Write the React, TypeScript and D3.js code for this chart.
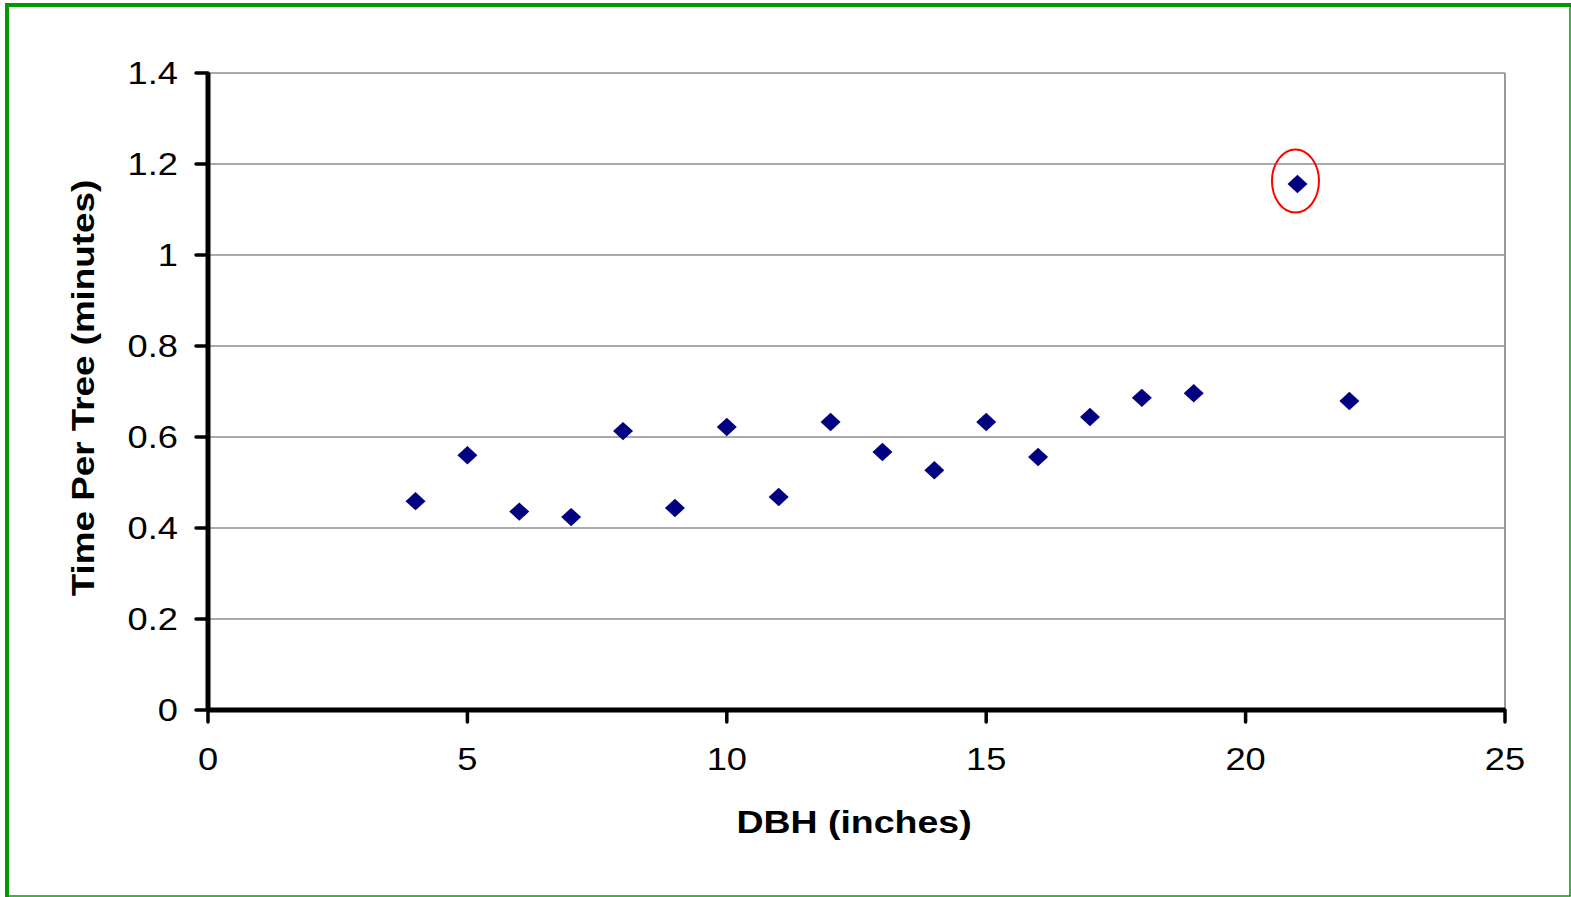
import { useRef, useEffect } from "react";
import * as d3 from "d3";

// DBH (inches) vs time per tree (minutes)
const dbh = [4, 5, 6, 7, 8, 9, 10, 11, 12, 13, 14, 15, 16, 17, 18, 19, 21, 22];
const timePerTree = [0.459, 0.560, 0.436, 0.424, 0.613, 0.444, 0.622, 0.468, 0.633, 0.567, 0.527, 0.633, 0.556, 0.644, 0.686, 0.696, 1.156, 0.679];
const xTicks = [0, 5, 10, 15, 20, 25];
const yTicks = [0, 0.2, 0.4, 0.6, 0.8, 1, 1.2, 1.4];
const outlierIndex = 16;

const W = 1571;
const H = 897;

export default function App() {
  const svgRef = useRef(null);

  useEffect(() => {
    document.body.style.margin = "0";
    document.body.style.overflow = "hidden";

    const svg = d3.select(svgRef.current);
    svg.selectAll("*").remove();

    const x = d3.scaleLinear().domain([0, 25]).range([208, 1505]);
    const y = d3.scaleLinear().domain([0, 1.4]).range([710, 73]);

    svg.append("rect").attr("width", W).attr("height", H).attr("fill", "#fff");

    // green frame (thick top/left, thin right/bottom)
    svg.append("path")
      .attr("d", `M7,${H} V5 H${W}`)
      .attr("fill", "none")
      .attr("stroke", "#009900")
      .attr("stroke-width", 4);
    svg.append("path")
      .attr("d", `M${W - 1},5 V${H - 1} H7`)
      .attr("fill", "none")
      .attr("stroke", "#009900")
      .attr("stroke-width", 1.5);

    // gridlines
    svg.append("g")
      .selectAll("line")
      .data(yTicks.filter((d) => d > 0))
      .enter()
      .append("line")
      .attr("x1", x(0))
      .attr("x2", x(25))
      .attr("y1", (d) => y(d))
      .attr("y2", (d) => y(d))
      .attr("stroke", "#555")
      .attr("stroke-width", 1.2);

    // right plot border
    svg.append("line")
      .attr("x1", x(25)).attr("x2", x(25))
      .attr("y1", y(1.4)).attr("y2", y(0))
      .attr("stroke", "#999")
      .attr("stroke-width", 2);

    // y axis ticks
    svg.append("g")
      .selectAll("line")
      .data(yTicks)
      .enter()
      .append("line")
      .attr("x1", x(0) - 12)
      .attr("x2", x(0))
      .attr("y1", (d) => y(d))
      .attr("y2", (d) => y(d))
      .attr("stroke", "#000")
      .attr("stroke-width", 3.5)
      .attr("stroke-linecap", "round");

    // x axis ticks
    svg.append("g")
      .selectAll("line")
      .data(xTicks)
      .enter()
      .append("line")
      .attr("x1", (d) => x(d))
      .attr("x2", (d) => x(d))
      .attr("y1", y(0))
      .attr("y2", y(0) + 12)
      .attr("stroke", "#000")
      .attr("stroke-width", 3.5)
      .attr("stroke-linecap", "round");

    // axis lines
    svg.append("line")
      .attr("x1", x(0)).attr("x2", x(0))
      .attr("y1", y(1.4)).attr("y2", y(0))
      .attr("stroke", "#000").attr("stroke-width", 5);
    svg.append("line")
      .attr("x1", x(0)).attr("x2", x(25))
      .attr("y1", y(0)).attr("y2", y(0))
      .attr("stroke", "#000").attr("stroke-width", 5);

    const font = "'Liberation Sans', Arial, sans-serif";

    // y tick labels
    svg.append("g")
      .selectAll("text")
      .data(yTicks)
      .enter()
      .append("text")
      .attr("transform", (d) => `translate(178,${y(d) + 11}) scale(1.17,1)`)
      .attr("text-anchor", "end")
      .attr("font-family", font)
      .attr("font-size", 31)
      .attr("fill", "#000")
      .text((d) => String(d));

    // x tick labels
    svg.append("g")
      .selectAll("text")
      .data(xTicks)
      .enter()
      .append("text")
      .attr("transform", (d) => `translate(${x(d)},770) scale(1.17,1)`)
      .attr("text-anchor", "middle")
      .attr("font-family", font)
      .attr("font-size", 31)
      .attr("fill", "#000")
      .text((d) => String(d));

    // axis titles
    svg.append("text")
      .attr("transform", "translate(854,833) scale(1.19,1)")
      .attr("text-anchor", "middle")
      .attr("font-family", font)
      .attr("font-weight", "bold")
      .attr("font-size", 31.5)
      .text("DBH (inches)");

    svg.append("text")
      .attr("transform", "translate(94,388) rotate(-90) scale(1.15,1)")
      .attr("text-anchor", "middle")
      .attr("font-family", font)
      .attr("font-weight", "bold")
      .attr("font-size", 32)
      .text("Time Per Tree (minutes)");

    // points
    const diamond = d3.symbol().type(d3.symbolSquare).size(200);
    svg.append("g")
      .selectAll("path")
      .data(dbh.map((d, i) => [d, timePerTree[i]]))
      .enter()
      .append("path")
      .attr("d", diamond)
      .attr("transform", (d) => `translate(${x(d[0])},${y(d[1])}) scale(1,0.92) rotate(45)`)
      .attr("fill", "#000080");

    // outlier highlight
    svg.append("ellipse")
      .attr("cx", x(dbh[outlierIndex]) - 2)
      .attr("cy", y(timePerTree[outlierIndex]) - 3)
      .attr("rx", 23.5)
      .attr("ry", 31.5)
      .attr("fill", "none")
      .attr("stroke", "#ff0000")
      .attr("stroke-width", 2);
  }, []);

  return (
    <svg
      ref={svgRef}
      width={W}
      height={H}
      style={{ position: "absolute", left: 0, top: 0, display: "block" }}
    />
  );
}
